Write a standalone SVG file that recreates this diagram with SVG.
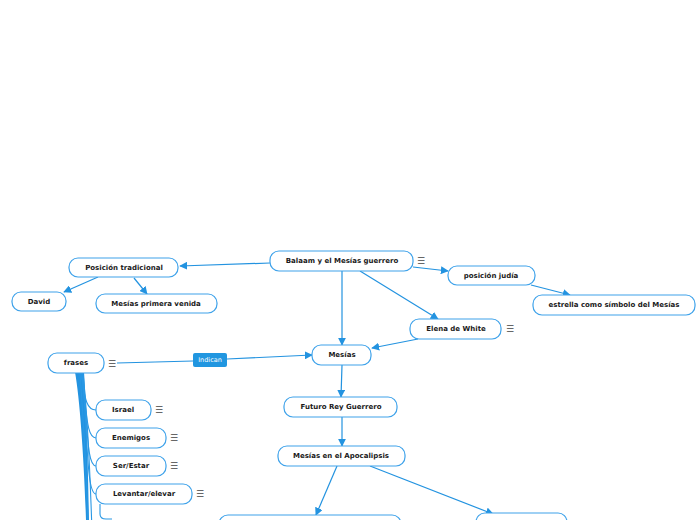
<svg xmlns="http://www.w3.org/2000/svg" width="696" height="520" viewBox="0 0 696 520">
<defs>
<marker id="ah" viewBox="0 0 10 10" refX="9" refY="5" markerWidth="8" markerHeight="8" markerUnits="userSpaceOnUse" orient="auto">
<path d="M0,0 L10,5 L0,10 z" fill="#2393e0"/>
</marker>
<style>
.n rect{fill:#fff;stroke:#3ea2ea;stroke-width:1.2}
.n text{font-family:"DejaVu Sans",Verdana,sans-serif;font-weight:bold;font-size:7px;fill:#1a1a1a;text-anchor:middle;dominant-baseline:central}
.m{font-family:"DejaVu Sans",sans-serif;font-size:9px;fill:#444;dominant-baseline:central}
.c path{fill:none;stroke:#2393e0;stroke-width:1.2}
.c .a{marker-end:url(#ah)}
.b path{fill:none;stroke:#2a98e4;stroke-width:1.1}
.b .t{fill:#2393e0;stroke:none}
</style>
</defs>
<rect width="696" height="520" fill="#fff"/>
<g class="c">
<path class="a" d="M270,263 L180,266"/>
<path class="a" d="M98,277 L64,292"/>
<path class="a" d="M134,278 L147,294"/>
<path class="a" d="M342,271 L342,345"/>
<path class="a" d="M360,271 L438,319"/>
<path class="a" d="M413,267 L448,271"/>
<path class="a" d="M531,285 L570,295"/>
<path class="a" d="M418,339 L372,348"/>
<path d="M117,363 L193,361"/>
<path class="a" d="M227,359 L312,355"/>
<path class="a" d="M342,365 L341,397"/>
<path class="a" d="M342,417 L342,446"/>
<path class="a" d="M337,466 L316,515"/>
<path class="a" d="M370,466 L493,514"/>
</g>
<g class="b">
<path class="t" d="M75,372 L84,372 C86,400 88,460 89,520 L86,520 C84,460 80,400 75,372 z"/>
<path d="M81,373 C85,398 86,410 96,410"/>
<path d="M81,373 C87,410 86,438 96,438"/>
<path d="M82,373 C88,420 86,466 96,466"/>
<path d="M82,373 C88,430 86,494 96,494"/>
<path d="M83,373 C89,430 90,480 92,530"/>
<path d="M80,373 C84,430 87,480 88,530"/>
<path d="M100,504 L100,514 Q100,519 106,519 L112,519"/>
</g>
<g id="balaam" class="n"><rect x="270" y="251" width="143" height="20" rx="9"/><text x="342" y="261">Balaam y el Mesías guerrero</text></g>
<text class="m" x="417" y="261">☰</text>
<g id="posicion-tradicional" class="n"><rect x="69" y="258" width="109" height="19" rx="9"/><text x="124" y="268">Posición tradicional</text></g>
<g id="david" class="n"><rect x="12" y="292" width="54" height="19" rx="9"/><text x="39" y="302">David</text></g>
<g id="mesias-primera" class="n"><rect x="96" y="294" width="121" height="19" rx="9"/><text x="156" y="304">Mesías primera venida</text></g>
<g id="posicion-judia" class="n"><rect x="448" y="266" width="87" height="19" rx="9"/><text x="491" y="276">posición judía</text></g>
<g id="estrella" class="n"><rect x="533" y="295" width="162" height="20" rx="9"/><text x="614" y="305">estrella como símbolo del Mesías</text></g>
<g id="elena" class="n"><rect x="410" y="319" width="91" height="20" rx="9"/><text x="456" y="329">Elena de White</text></g>
<text class="m" x="506" y="329">☰</text>
<g id="mesias" class="n"><rect x="312" y="345" width="59" height="20" rx="9"/><text x="342" y="355">Mesías</text></g>
<g id="frases" class="n"><rect x="48" y="353" width="56" height="20" rx="9"/><text x="76" y="363">frases</text></g>
<text class="m" x="108" y="364">☰</text>
<g id="indican"><rect x="193" y="353" width="34" height="14" rx="2" fill="#2196e0"/><text x="210" y="360" font-family="DejaVu Sans,sans-serif" font-size="6.5" fill="#fff" text-anchor="middle" dominant-baseline="central">Indican</text></g>
<g id="futuro" class="n"><rect x="284" y="397" width="113" height="20" rx="9"/><text x="341" y="407">Futuro Rey Guerrero</text></g>
<g id="apocalipsis" class="n"><rect x="278" y="446" width="127" height="20" rx="9"/><text x="341" y="456">Mesías en el Apocalipsis</text></g>
<g id="bottom-left" class="n"><rect x="219" y="515" width="182" height="20" rx="9"/></g>
<g id="bottom-right" class="n"><rect x="476" y="513" width="91" height="20" rx="9"/></g>
<g id="israel" class="n"><rect x="96" y="400" width="55" height="20" rx="9"/><text x="123" y="410">Israel</text></g>
<text class="m" x="155" y="410">☰</text>
<g id="enemigos" class="n"><rect x="96" y="428" width="70" height="20" rx="9"/><text x="131" y="438">Enemigos</text></g>
<text class="m" x="170" y="438">☰</text>
<g id="ser-estar" class="n"><rect x="96" y="456" width="70" height="20" rx="9"/><text x="131" y="466">Ser/Estar</text></g>
<text class="m" x="170" y="466">☰</text>
<g id="levantar" class="n"><rect x="96" y="484" width="96" height="20" rx="9"/><text x="144" y="494">Levantar/elevar</text></g>
<text class="m" x="196" y="494">☰</text>
</svg>
